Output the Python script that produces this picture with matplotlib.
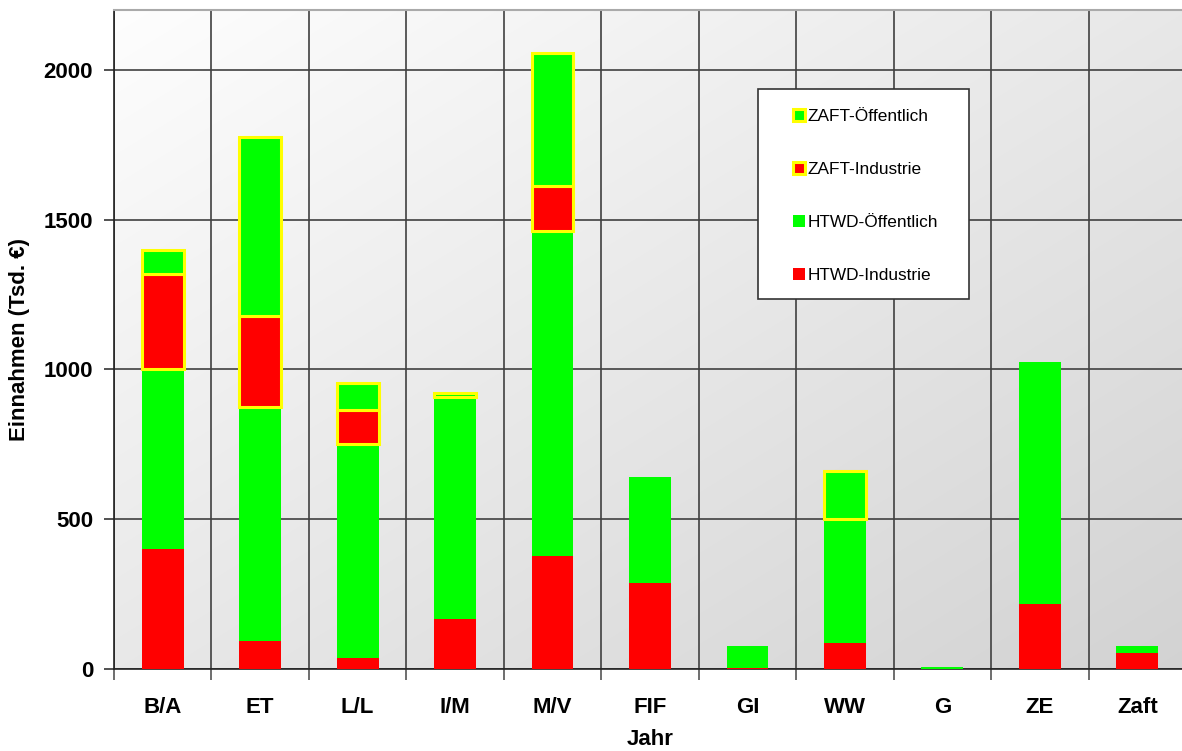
import numpy as np
import matplotlib.pyplot as plt
from matplotlib.patches import Patch, Rectangle

plt.rcParams['font.family'] = ['Liberation Sans', 'DejaVu Sans']

# Einnahmen je Bereich in Tsd. Euro
categories = ['B/A', 'ET', 'L/L', 'I/M', 'M/V', 'FIF', 'GI', 'WW', 'G', 'ZE', 'Zaft']
htwd_industrie = [400, 95, 37, 167, 377, 287, 4, 88, 0, 216, 54]
htwd_oeffentlich = [600, 780, 714, 741, 1085, 354, 73, 413, 6, 809, 22]
zaft_industrie = [320, 305, 114, 0, 151, 0, 0, 0, 0, 0, 0]
zaft_oeffentlich = [80, 597, 90, 13, 443, 0, 0, 160, 0, 0, 0]

RED = '#ff0000'
GREEN = '#00ff00'
YELLOW = '#ffff00'

fig = plt.figure(figsize=(11.82, 7.51), dpi=100)
ax = fig.add_axes([114 / 1182, 1 - 669 / 751, 1072 / 1182, 659 / 751])

# diagonal grey gradient behind the plot (white top left -> light grey bottom right)
gx, gy = np.meshgrid(np.linspace(0, 1, 300), np.linspace(0, 1, 300))
t = (gx + gy) / 2
level = 0.995 - t * (0.995 - 0.825)
bg = np.dstack([level, level, level])
ax.imshow(bg, extent=(0, 1, 0, 1), transform=ax.transAxes, origin='upper',
          aspect='auto', zorder=0, interpolation='bilinear')

x = np.arange(len(categories))
w = 0.43


def stack(vals, bottom, color, edge=None):
    vals = np.array(vals, dtype=float)
    m = vals > 0
    if edge is None:
        ax.bar(x[m], vals[m], w, bottom=bottom[m], color=color, linewidth=0, zorder=3)
    else:
        ax.bar(x[m], vals[m], w, bottom=bottom[m], color=color, edgecolor=edge,
               linewidth=2.2, zorder=3)
    return bottom + vals


base = np.zeros(len(categories))
base = stack(htwd_industrie, base, RED)
base = stack(htwd_oeffentlich, base, GREEN)
base = stack(zaft_industrie, base, RED, YELLOW)
base = stack(zaft_oeffentlich, base, GREEN, YELLOW)

ax.set_xlim(-0.5, len(categories) - 0.5)
ax.set_ylim(0, 2200)

# grid: horizontal at 500 steps, vertical between the categories
ax.set_yticks([0, 500, 1000, 1500, 2000])
ax.set_xticks(np.arange(len(categories) + 1) - 0.5)
ax.set_xticklabels([])
ax.set_xticks(x, minor=True)
ax.set_xticklabels(categories, minor=True, fontsize=16, fontweight='bold')
ax.tick_params(axis='x', which='minor', length=0, pad=20)
ax.tick_params(axis='x', which='major', length=8, width=1.2, color='#555555')
ax.tick_params(axis='y', length=7, width=1.2, pad=8, labelsize=16, color='#333333')
for lab in ax.get_yticklabels():
    lab.set_fontweight('bold')
ax.grid(True, color='#404040', linewidth=1.2, zorder=1)
ax.set_axisbelow(True)

for s in ['left', 'bottom']:
    ax.spines[s].set_color('#222222')
    ax.spines[s].set_linewidth(1.2)
ax.spines['top'].set_color('#aaaaaa')
ax.spines['top'].set_linewidth(1.5)
ax.spines['right'].set_visible(False)

ax.set_xlabel('Jahr', fontsize=16, fontweight='bold', labelpad=8)
ax.set_ylabel('Einnahmen (Tsd. €)', fontsize=16, fontweight='bold', labelpad=10)

# legend box drawn separately so its size can be set freely
ax.add_patch(Rectangle((0.601, 0.561), 0.197, 0.319, transform=ax.transAxes,
                       facecolor='white', edgecolor='#333333', linewidth=1.2,
                       zorder=5))
handles = [
    Patch(facecolor=GREEN, edgecolor=YELLOW, linewidth=2.2, label='ZAFT-Öffentlich'),
    Patch(facecolor=RED, edgecolor=YELLOW, linewidth=2.2, label='ZAFT-Industrie'),
    Patch(facecolor=GREEN, edgecolor='none', label='HTWD-Öffentlich'),
    Patch(facecolor=RED, edgecolor='none', label='HTWD-Industrie'),
]
leg = ax.legend(handles=handles, loc='upper left', bbox_to_anchor=(0.633, 0.850),
                fontsize=12.4, frameon=False, labelspacing=2.2, handlelength=0.7,
                handleheight=0.7, handletextpad=0.15, borderpad=0, borderaxespad=0)
leg.set_zorder(6)

fig.savefig('out.png', dpi=100)
